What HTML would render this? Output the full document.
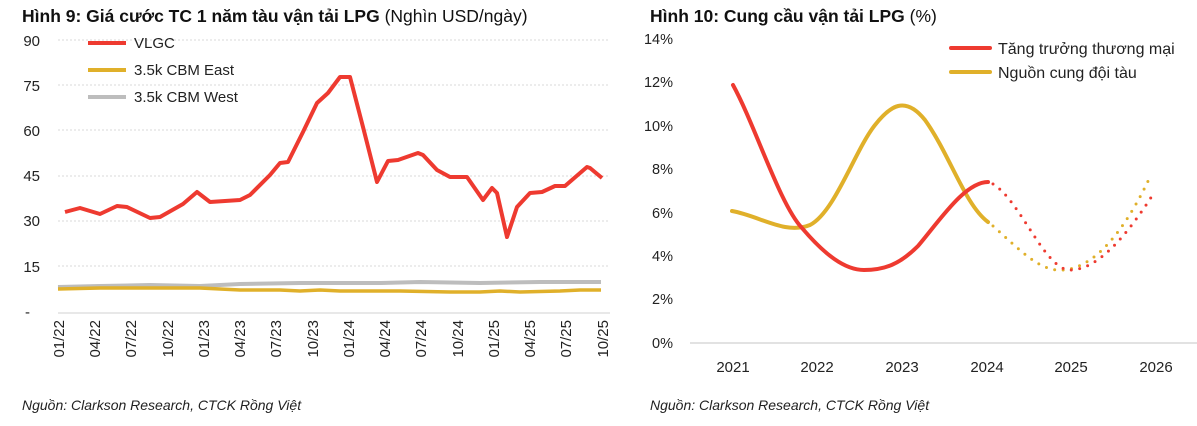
<!DOCTYPE html>
<html><head><meta charset="utf-8"><style>
body{margin:0;background:#fff;width:1197px;height:421px;overflow:hidden;font-family:"Liberation Sans",sans-serif}
svg text{font-family:"Liberation Sans","DejaVu Sans",sans-serif}
</style></head><body>
<svg width="1197" height="421" viewBox="0 0 1197 421" xmlns="http://www.w3.org/2000/svg">
<rect width="1197" height="421" fill="#fff"/>
<!-- LEFT -->
<text x="22" y="22" font-size="17.5" font-weight="bold" fill="#111">Hình 9: Giá cước TC 1 năm tàu vận tải LPG <tspan font-weight="normal">(Nghìn USD/ngày)</tspan></text>
<g stroke="#d8d8d8" stroke-width="1" stroke-dasharray="2,2">
<line x1="58" x2="610" y1="40" y2="40"/><line x1="58" x2="610" y1="85" y2="85"/><line x1="58" x2="610" y1="130" y2="130"/>
<line x1="58" x2="610" y1="176" y2="176"/><line x1="58" x2="610" y1="221" y2="221"/><line x1="58" x2="610" y1="266" y2="266"/>
</g>
<line x1="58" x2="610" y1="313" y2="313" stroke="#d0d0d0"/>
<g font-size="15" fill="#222" text-anchor="end">
<text x="40" y="46">90</text><text x="40" y="91">75</text><text x="40" y="136">60</text><text x="40" y="181">45</text><text x="40" y="226">30</text><text x="40" y="272">15</text><text x="30" y="317">-</text>
</g>
<g font-size="15" fill="#222" text-anchor="end">
<text transform="translate(64,320) rotate(-90)">01/22</text>
<text transform="translate(100,320) rotate(-90)">04/22</text>
<text transform="translate(136,320) rotate(-90)">07/22</text>
<text transform="translate(173,320) rotate(-90)">10/22</text>
<text transform="translate(209,320) rotate(-90)">01/23</text>
<text transform="translate(245,320) rotate(-90)">04/23</text>
<text transform="translate(281,320) rotate(-90)">07/23</text>
<text transform="translate(318,320) rotate(-90)">10/23</text>
<text transform="translate(354,320) rotate(-90)">01/24</text>
<text transform="translate(390,320) rotate(-90)">04/24</text>
<text transform="translate(426,320) rotate(-90)">07/24</text>
<text transform="translate(463,320) rotate(-90)">10/24</text>
<text transform="translate(499,320) rotate(-90)">01/25</text>
<text transform="translate(535,320) rotate(-90)">04/25</text>
<text transform="translate(571,320) rotate(-90)">07/25</text>
<text transform="translate(608,320) rotate(-90)">10/25</text>
</g>
<polyline fill="none" stroke="#bdbdbd" stroke-width="4" points="58,287 100,286 150,285 200,286 240,284 300,283 380,283 420,282 480,283 540,282 601,282"/>
<polyline fill="none" stroke="#e0b02a" stroke-width="3.5" points="58,289 100,288 150,288 200,288 240,290 280,290 300,291 320,290 340,291 400,291 450,292 480,292 500,291 520,292 560,291 580,290 601,290"/>
<polyline fill="none" stroke="#ee3a30" stroke-width="4" stroke-linejoin="round" points="65,212 80,208 100,214 117,206 127,207 150,218 160,217 183,204 197,192 210,202 240,200 250,195 270,175 280,163 288,162 303,132 317,103 328,93 340,77 350,77 363,127 377,182 388,161 398,160 418,153 423,155 437,170 450,177 467,177 483,200 492,188 497,193 507,237 517,207 530,193 542,192 555,186 565,186 587,167 590,168 602,178"/>
<g stroke-width="4"><line x1="88" x2="126" y1="43" y2="43" stroke="#ee3a30"/><line x1="88" x2="126" y1="70" y2="70" stroke="#e0b02a"/><line x1="88" x2="126" y1="97" y2="97" stroke="#bdbdbd"/></g>
<g font-size="15" fill="#222"><text x="134" y="48">VLGC</text><text x="134" y="75">3.5k CBM East</text><text x="134" y="102">3.5k CBM West</text></g>
<text x="22" y="410" font-size="14" font-style="italic" fill="#222">Nguồn: Clarkson Research, CTCK Rồng Việt</text>

<!-- RIGHT -->
<text x="650" y="22" font-size="17.5" font-weight="bold" fill="#111">Hình 10: Cung cầu vận tải LPG <tspan font-weight="normal">(%)</tspan></text>
<g font-size="14.5" fill="#222" text-anchor="end">
<text x="673" y="44">14%</text><text x="673" y="87">12%</text><text x="673" y="131">10%</text><text x="673" y="174">8%</text><text x="673" y="218">6%</text><text x="673" y="261">4%</text><text x="673" y="304">2%</text><text x="673" y="348">0%</text>
</g>
<line x1="690" x2="1197" y1="343" y2="343" stroke="#d8d8d8" stroke-width="1.5"/>
<g font-size="15" fill="#222" text-anchor="middle">
<text x="733" y="372">2021</text><text x="817" y="372">2022</text><text x="902" y="372">2023</text><text x="987" y="372">2024</text><text x="1071" y="372">2025</text><text x="1156" y="372">2026</text>
</g>
<path fill="none" stroke="#e0b02a" stroke-width="4" stroke-linecap="round" d="M732,211 C760,216 785,235 810,225 C835,212 855,150 875,125 C890,106 905,95 925,120 C950,155 965,205 988,222"/>
<path fill="none" stroke="#ee3a30" stroke-width="4" stroke-linecap="round" d="M733,85 C755,125 780,205 802,228 C825,255 845,270 864,270 C885,270 900,264 918,246 C940,220 965,182 988,182"/>
<path fill="none" stroke="#e0b02a" stroke-width="3" stroke-linecap="round" stroke-dasharray="0,8.5" d="M993,226 C1020,250 1040,272 1063,270 C1095,268 1125,230 1150,177"/>
<path fill="none" stroke="#ee3a30" stroke-width="3" stroke-linecap="round" stroke-dasharray="0,8.5" d="M993,184 C1020,200 1045,270 1070,270 C1100,270 1130,230 1152,196"/>
<g stroke-width="4" stroke-linecap="round"><line x1="951" x2="990" y1="48" y2="48" stroke="#ee3a30"/><line x1="951" x2="990" y1="72" y2="72" stroke="#e0b02a"/></g>
<g font-size="16" fill="#222"><text x="998" y="54">Tăng trưởng thương mại</text><text x="998" y="78">Nguồn cung đội tàu</text></g>
<text x="650" y="410" font-size="14" font-style="italic" fill="#222">Nguồn: Clarkson Research, CTCK Rồng Việt</text>
</svg>
</body></html>
